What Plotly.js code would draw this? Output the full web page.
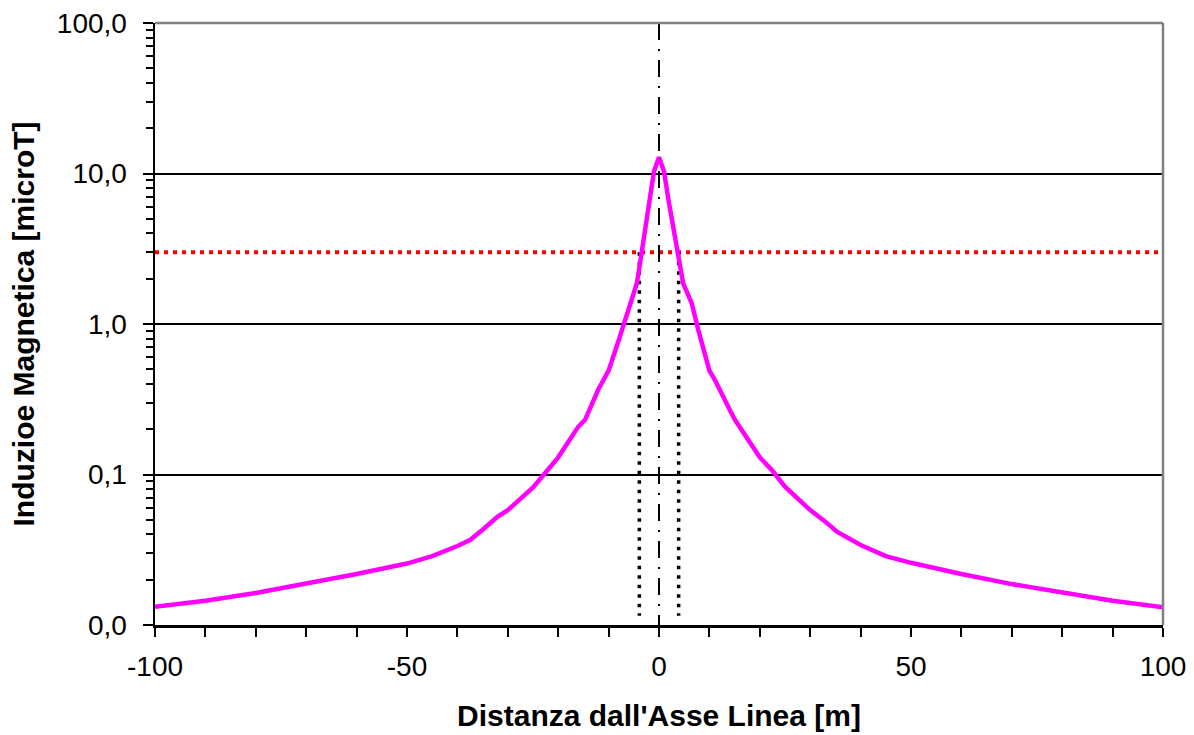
<!DOCTYPE html>
<html>
<head>
<meta charset="utf-8">
<script src="https://cdn.plot.ly/plotly-3.0.1.min.js"></script>
<style>html,body{margin:0;padding:0;background:#fff;}#chart{width:1194px;height:735px;}</style>
</head>
<body>
<div id="chart"></div>
<script>
// Distance from line axis [m]
const distance = [-100, -90, -80, -70, -60, -50, -45, -40, -37.5, -35, -32, -30, -25, -22, -20, -16, -14.7, -12, -10, -8, -7, -6, -5, -4.4, -4, -3.4, -3, -2, -1, 0,
                  1, 2, 3, 3.8, 4.8, 6.5, 7.8, 10, 11.1, 14, 15.1, 20, 22.4, 25, 30, 33, 35.3, 40, 45, 50, 60, 70, 80, 90, 100];
// Magnetic induction [microT]
const induction = [0.0132, 0.0145, 0.0163, 0.0187, 0.0218, 0.0256, 0.0287, 0.0335, 0.0367, 0.043, 0.0525, 0.058, 0.082, 0.108, 0.13, 0.208, 0.23, 0.37, 0.49, 0.78, 0.99, 1.28, 1.6, 1.86, 2.25, 3.1, 3.8, 6.3, 10.3, 12.8,
                   10.3, 6.3, 4.0, 2.8, 1.86, 1.37, 0.91, 0.49, 0.424, 0.27, 0.23, 0.13, 0.107, 0.083, 0.058, 0.0486, 0.0417, 0.034, 0.0287, 0.0259, 0.0218, 0.0187, 0.0164, 0.0145, 0.0131];
// Limit value line (3 microT) and its intersection distances
const limitValue = 3;
const limitX = [-100, 100];
const crossLeft = -3.9;
const crossRight = 3.9;
const dottedBottom = 0.0115;
// Axis ticks
const yTickVals = [0.01, 0.1, 1, 10, 100];
const yTickText = ['0,0', '0,1', '1,0', '10,0', '100,0'];
const yMinorVals = [];
[0.01, 0.1, 1, 10].forEach(d => { for (let k = 2; k <= 9; k++) yMinorVals.push(+(d * k).toPrecision(3)); });
const xTickVals = [-100, -50, 0, 50, 100];
const xTickText = ['-100', '-50', '0', '50', '100'];
const xMinorVals = [];
for (let v = -90; v <= 90; v += 10) if (v % 50 !== 0) xMinorVals.push(v);

const FONT = 'Arial, "Liberation Sans", sans-serif';

const traces = [
  { x: limitX, y: [limitValue, limitValue], mode: 'lines', line: {color: '#FF0000', width: 4, dash: '4px,5px'}, hoverinfo: 'skip', showlegend: false },
  { x: [crossLeft, crossLeft], y: [limitValue, dottedBottom], mode: 'lines', line: {color: '#000000', width: 3.5, dash: '3.5px,6px'}, hoverinfo: 'skip', showlegend: false },
  { x: [crossRight, crossRight], y: [limitValue, dottedBottom], mode: 'lines', line: {color: '#000000', width: 3.5, dash: '3.5px,6px'}, hoverinfo: 'skip', showlegend: false },
  { x: [0, 0], y: [100, 0.01], mode: 'lines', line: {color: '#000000', width: 2, dash: '17px,9px,2px,9px'}, hoverinfo: 'skip', showlegend: false },
  { x: distance, y: induction, mode: 'lines', line: {color: '#FF00FF', width: 4.5}, showlegend: false }
];

const layout = {
  width: 1194, height: 735,
  margin: {l: 155, r: 31, t: 23, b: 110},
  paper_bgcolor: '#ffffff', plot_bgcolor: '#ffffff',
  font: {family: FONT, color: '#000000', size: 28},
  showlegend: false,
  xaxis: {
    range: [-100, 100], tickmode: 'array', tickvals: xTickVals, ticktext: xTickText,
    ticks: 'outside', ticklen: 9, tickwidth: 2, tickcolor: '#000',
    minor: {tickmode: 'array', tickvals: xMinorVals, ticks: 'outside', ticklen: 9, tickwidth: 2, tickcolor: '#000', showgrid: false},
    showline: true, linecolor: '#000', linewidth: 2.5, showgrid: false, zeroline: false,
    tickfont: {family: FONT, size: 28}, ticklabelstandoff: 6,
    title: {text: "<b>Distanza dall'Asse Linea [m]</b>", font: {family: FONT, size: 30}, standoff: 24}
  },
  yaxis: {
    type: 'log', range: [-2, 2], tickmode: 'array', tickvals: yTickVals, ticktext: yTickText,
    ticks: 'outside', ticklen: 10, tickwidth: 2, tickcolor: '#000',
    minor: {tickmode: 'array', tickvals: yMinorVals, ticks: 'outside', ticklen: 7, tickwidth: 2, tickcolor: '#000', showgrid: false},
    showline: true, linecolor: '#000', linewidth: 2.5,
    showgrid: true, gridcolor: '#000000', gridwidth: 2, zeroline: false,
    tickfont: {family: FONT, size: 28}, ticklabelstandoff: 10,
    title: {text: '<b>Induzioe Magnetica [microT]</b>', font: {family: FONT, size: 30}, standoff: 14}
  },
  shapes: [
    {type: 'line', xref: 'paper', yref: 'paper', x0: 0, x1: 1, y0: 1, y1: 1, line: {color: '#808080', width: 2.5}, layer: 'above'},
    {type: 'line', xref: 'paper', yref: 'paper', x0: 1, x1: 1, y0: 0, y1: 1, line: {color: '#808080', width: 2.5}, layer: 'above'}
  ]
};

Plotly.newPlot('chart', traces, layout, {staticPlot: true, displayModeBar: false});
</script>
</body>
</html>
